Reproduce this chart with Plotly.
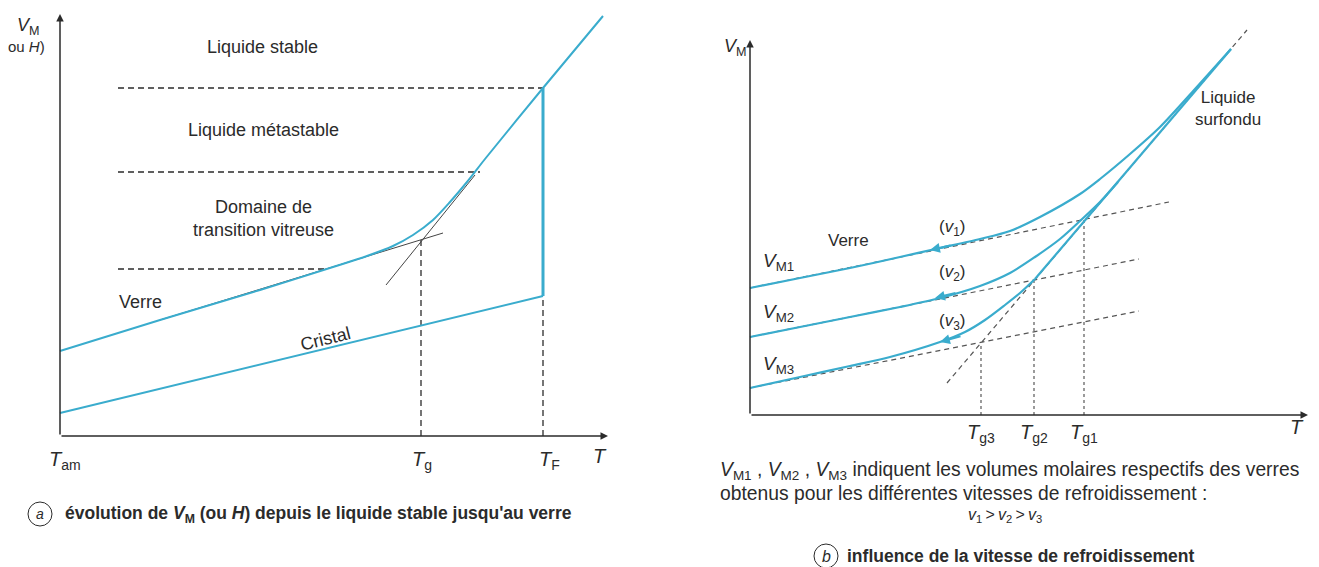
import plotly.graph_objects as go

# ---------------- Panel (a) data : T (relative), V_M (relative) ----------------
glass_a_T = [0, 100, 200, 273, 307, 333, 353, 373, 390, 407, 425, 483, 543]
glass_a_V = [85, 116, 146, 169, 180, 190, 201, 216, 234, 254, 277, 348, 420]
cristal_T = [0, 483]
cristal_V = [23, 140]
fusion_T = [483, 483]
fusion_V = [140, 348]
tang_verre_T = [100, 383]
tang_verre_V = [116, 203]
tang_liq_T = [326, 415]
tang_liq_V = [151, 261]
niveaux_V = [348, 264, 167]          # dashed horizontal levels
niveaux_Tfin = [483, 420, 268]
niveaux_Tdeb = 58
Tg_a = 361
Tg_a_V = 196
TF_a = 483
TF_a_V = 140

# ---------------- Panel (b) data ----------------
c1_T = [0, 50, 100, 150, 190, 230, 260, 290, 330, 350, 380, 410, 445, 481]
c1_V = [127, 137, 147, 158, 167, 176, 184, 198, 221, 236, 261, 288, 326, 366]
c2_T = [0, 50, 100, 150, 190, 230, 260, 285, 310, 330, 350, 368]
c2_V = [78, 88, 98, 108, 117, 129, 142, 158, 176, 194, 213, 233]
c3_T = [0, 50, 100, 140, 190, 215, 235, 255, 270, 285]
c3_V = [27, 38, 49, 58, 73, 83, 95, 110, 122, 136]
liq_T = [285, 481]
liq_V = [136, 366]
liq_dash_T = [197, 497]
liq_dash_V = [32, 385]
tang_b = [([0, 419], [127, 213]), ([0, 389], [78, 156]), ([0, 389], [27, 104])]
Tg_b = [334, 284, 231]
Tg_b_V = [196, 135, 72]
Tg_b_sub = ["g1", "g2", "g3"]
fleches_b = [(180, 165), (185, 117), (190, 73)]
fleches_pente = [0.21, 0.24, 0.28]

CYAN = "#3aaccd"
INK = "#2b2b2b"
FONT = "Liberation Sans, Arial, sans-serif"

fig = go.Figure()

def line(x, y, ax="a", color=CYAN, width=2, dash=None, shape="linear"):
    xa, ya = ("x", "y") if ax == "a" else ("x2", "y2")
    fig.add_trace(go.Scatter(x=x, y=y, mode="lines", xaxis=xa, yaxis=ya,
                             line=dict(color=color, width=width, dash=dash, shape=shape,
                                       smoothing=0.8 if shape == "spline" else None),
                             hoverinfo="skip", showlegend=False))

# ----- panel a traces -----
for v, tf in zip(niveaux_V, niveaux_Tfin):
    line([niveaux_Tdeb, tf], [v, v], color=INK, width=1.3, dash="6px,4px")
line([Tg_a, Tg_a], [0, Tg_a_V], color=INK, width=1.3, dash="6px,4px")
line([TF_a, TF_a], [0, TF_a_V], color=INK, width=1.3, dash="6px,4px")
line(tang_verre_T, tang_verre_V, color="#444", width=1)
line(tang_liq_T, tang_liq_V, color="#444", width=1)
line(glass_a_T, glass_a_V, shape="spline")
line(cristal_T, cristal_V)
line(fusion_T, fusion_V, width=3)

# ----- panel b traces -----
line(liq_dash_T, liq_dash_V, ax="b", color="#555", width=1.2, dash="5px,4px")
for tx, ty in tang_b:
    line(tx, ty, ax="b", color="#555", width=1.2, dash="5px,4px")
for t, v in zip(Tg_b, Tg_b_V):
    line([t, t], [0, v], ax="b", color="#666", width=1.3, dash="3px,3px")
line(c1_T, c1_V, ax="b", shape="spline", width=2.2)
line(c2_T, c2_V, ax="b", shape="spline", width=2.2)
line(c3_T, c3_V, ax="b", shape="spline", width=2.2)
line(liq_T, liq_V, ax="b", width=2.2)

ann = []

def txt(x, y, s, ax="a", size=18, xanchor="center", angle=0, color=INK, align="center"):
    xa, ya = ("x", "y") if ax == "a" else ("x2", "y2")
    ann.append(dict(x=x, y=y, xref=xa, yref=ya, text=s, showarrow=False,
                    xanchor=xanchor, yanchor="middle", textangle=angle, align=align,
                    font=dict(family=FONT, size=size, color=color)))

def arrow(x, y, x0, y0, ax="a", color=INK, width=1.5, size=1.0):
    xa, ya = ("x", "y") if ax == "a" else ("x2", "y2")
    ann.append(dict(x=x, y=y, ax=x0, ay=y0, xref=xa, yref=ya, axref=xa, ayref=ya,
                    showarrow=True, arrowhead=2, arrowsize=size, arrowwidth=width,
                    arrowcolor=color, text=""))

# axes
arrow(0, 422, 0, 0, "a")
arrow(548, 0, 0, 0, "a")
arrow(0, 375, 0, 0, "b")
arrow(558, 0, 0, 0, "b")

# curve arrows panel b
for (tx, tv), p in zip(fleches_b, fleches_pente):
    arrow(tx, tv, tx + 22, tv + 22 * p, "b", color=CYAN, width=2.2, size=0.9)

# panel a labels
txt(-32, 410, "<i>V</i><sub>M</sub>", size=18)
txt(-34, 390, "ou <i>H</i>)", size=15)
txt(202, 389, "Liquide stable")
txt(203, 306, "Liquide métastable")
txt(203, 218, "Domaine de<br>transition vitreuse")
txt(80, 134, "Verre")
txt(265, 97, "Cristal", angle=-14)
txt(5, -24, "<i>T</i><sub>am</sub>", size=20)
txt(362, -24, "<i>T</i><sub>g</sub>", size=20)
txt(489, -24, "<i>T</i><sub>F</sub>", size=20)
txt(540, -20, "<i>T</i>", size=20)
txt(3, -78, "<b>évolution de <i>V</i><sub>M</sub> (ou <i>H</i>) depuis le liquide stable jusqu'au verre</b>",
    size=17.5, xanchor="left")
txt(-20, -78, "<i>a</i>", size=14)

# panel b labels
txt(-15, 368, "<i>V</i><sub>M</sub>", ax="b", size=18)
txt(28, 153, "<i>V</i><sub>M1</sub>", ax="b", size=19)
txt(28, 102, "<i>V</i><sub>M2</sub>", ax="b", size=19)
txt(28, 50, "<i>V</i><sub>M3</sub>", ax="b", size=19)
txt(98, 175, "Verre", ax="b", size=17)
txt(202, 187, "(<i>v</i><sub>1</sub>)", ax="b", size=17)
txt(202, 142, "(<i>v</i><sub>2</sub>)", ax="b", size=17)
txt(202, 93, "(<i>v</i><sub>3</sub>)", ax="b", size=17)
txt(478, 307, "Liquide<br>surfondu", ax="b", size=17)
for t, sub in zip(Tg_b, Tg_b_sub):
    txt(t, -18, "<i>T</i><sub>" + sub + "</sub>", ax="b", size=20)
txt(547, -12, "<i>T</i>", ax="b", size=20)
txt(-32, -56, "<i>V</i><sub>M1</sub> , <i>V</i><sub>M2</sub> , <i>V</i><sub>M3</sub> indiquent les volumes molaires respectifs des verres",
    ax="b", size=19.3, xanchor="left")
txt(-32, -78, "obtenus pour les différentes vitesses de refroidissement :", ax="b", size=19.3, xanchor="left")
txt(255, -100, "<i>v</i><sub>1</sub>&#8201;&gt;&#8201;<i>v</i><sub>2</sub>&#8201;&gt;&#8201;<i>v</i><sub>3</sub>",
    ax="b", size=16)
txt(95, -141, "<b>influence de la vitesse de refroidissement</b>", ax="b", size=17.5, xanchor="left")
txt(76, -141, "<i>b</i>", ax="b", size=16)

shapes = [
    dict(type="circle", xref="x", yref="y", x0=-32, x1=-8, y0=-90, y1=-66,
         line=dict(color=INK, width=1)),
    dict(type="circle", xref="x2", yref="y2", x0=64, x1=88, y0=-153, y1=-129,
         line=dict(color=INK, width=1)),
]

W, H = 1319, 567
split = 0.5
fig.update_layout(
    width=W, height=H, margin=dict(l=0, r=0, t=0, b=0),
    paper_bgcolor="white", plot_bgcolor="white",
    annotations=ann, shapes=shapes, hovermode=False, showlegend=False,
    xaxis=dict(domain=[0, split], range=[-60, W * split - 60], visible=False, fixedrange=True),
    yaxis=dict(domain=[0, 1], range=[436 - H, 436], visible=False, fixedrange=True),
    xaxis2=dict(domain=[split, 1], range=[W * split - 750, W - 750], visible=False, fixedrange=True),
    yaxis2=dict(domain=[0, 1], range=[415 - H, 415], visible=False, fixedrange=True, anchor="x2"),
)

fig.write_html("out.html", config={"displayModeBar": False},
               post_script="document.body.style.margin='0px';document.body.style.overflow='hidden';")
